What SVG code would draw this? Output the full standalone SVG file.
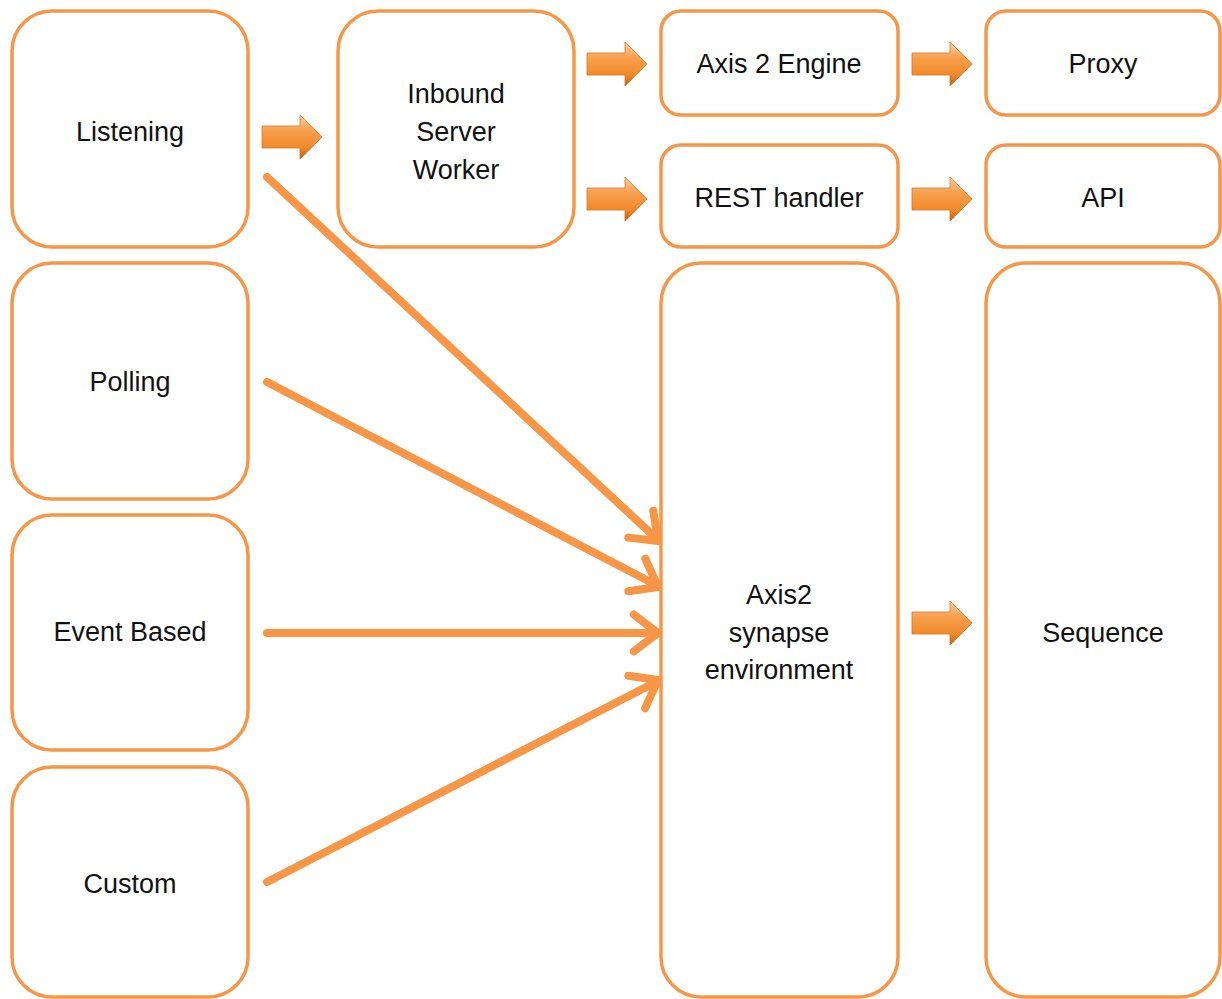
<svg xmlns="http://www.w3.org/2000/svg" width="1222" height="999" viewBox="0 0 1222 999">
<style>
.box{fill:#fff;stroke:#F79646;stroke-width:3.5}
.t{font-family:"Liberation Sans",Arial,sans-serif;font-size:27px;fill:#111;text-anchor:middle}
.ln{fill:none;stroke:#F79646;stroke-width:8;stroke-linecap:round;stroke-linejoin:round}
</style>
<defs>
<linearGradient id="g" x1="0" y1="0" x2="0" y2="1">
<stop offset="0" stop-color="#FAD0A6"/>
<stop offset="0.35" stop-color="#F8A04E"/>
<stop offset="0.75" stop-color="#F08A2A"/>
<stop offset="1" stop-color="#C0600E"/>
</linearGradient>
<path id="ba" d="M0,-11 L38,-11 L38,-22 L60,0 L38,22 L38,11 L0,11 Z" fill="url(#g)" stroke="#D9741C" stroke-width="0.8"/>
</defs>
<g id="listening"><rect class="box" x="12" y="11" width="236" height="236" rx="40"/><text class="t" x="130" y="141">Listening</text></g>
<g id="polling"><rect class="box" x="12" y="263" width="236" height="236" rx="40"/><text class="t" x="130" y="391">Polling</text></g>
<g id="event-based"><rect class="box" x="12" y="515" width="236" height="235" rx="40"/><text class="t" x="130" y="641">Event Based</text></g>
<g id="custom"><rect class="box" x="12" y="767" width="236" height="230" rx="40"/><text class="t" x="130" y="893">Custom</text></g>
<g id="inbound-server-worker"><rect class="box" x="338" y="11" width="236" height="236" rx="40"/><text class="t" x="456" y="103">Inbound</text><text class="t" x="456" y="141">Server</text><text class="t" x="456" y="179">Worker</text></g>
<g id="axis2-engine"><rect class="box" x="661" y="11" width="237" height="104" rx="20"/><text class="t" x="779" y="73">Axis 2 Engine</text></g>
<g id="rest-handler"><rect class="box" x="661" y="145" width="237" height="102" rx="20"/><text class="t" x="779" y="207">REST handler</text></g>
<g id="axis2-synapse"><rect class="box" x="661" y="263" width="237" height="734" rx="40"/><text class="t" x="779" y="604">Axis2</text><text class="t" x="779" y="642">synapse</text><text class="t" x="779" y="679">environment</text></g>
<g id="proxy"><rect class="box" x="986" y="11" width="234" height="104" rx="20"/><text class="t" x="1103" y="73">Proxy</text></g>
<g id="api"><rect class="box" x="986" y="145" width="234" height="102" rx="20"/><text class="t" x="1103" y="207">API</text></g>
<g id="sequence"><rect class="box" x="986" y="263" width="234" height="734" rx="40"/><text class="t" x="1103" y="642">Sequence</text></g>
<g id="connectors">
<use href="#ba" transform="translate(262,137)"/>
<use href="#ba" transform="translate(587,64)"/>
<use href="#ba" transform="translate(587,199)"/>
<use href="#ba" transform="translate(912,64)"/>
<use href="#ba" transform="translate(912,199)"/>
<use href="#ba" transform="translate(912,623)"/>
<path class="ln" d="M267,177 L658,540 M628.3,537.6 L658,541 L653.3,510.7"/>
<path class="ln" d="M267,382 L658,586 M628.3,591.2 L658,587 L645.3,558.6"/>
<path class="ln" d="M267,633 L658,633 M633.8,651.4 L658,633 L633.8,614.6"/>
<path class="ln" d="M267,882 L658,681 M645.1,708.3 L658,680 L628.3,675.7"/>
</g>
</svg>
